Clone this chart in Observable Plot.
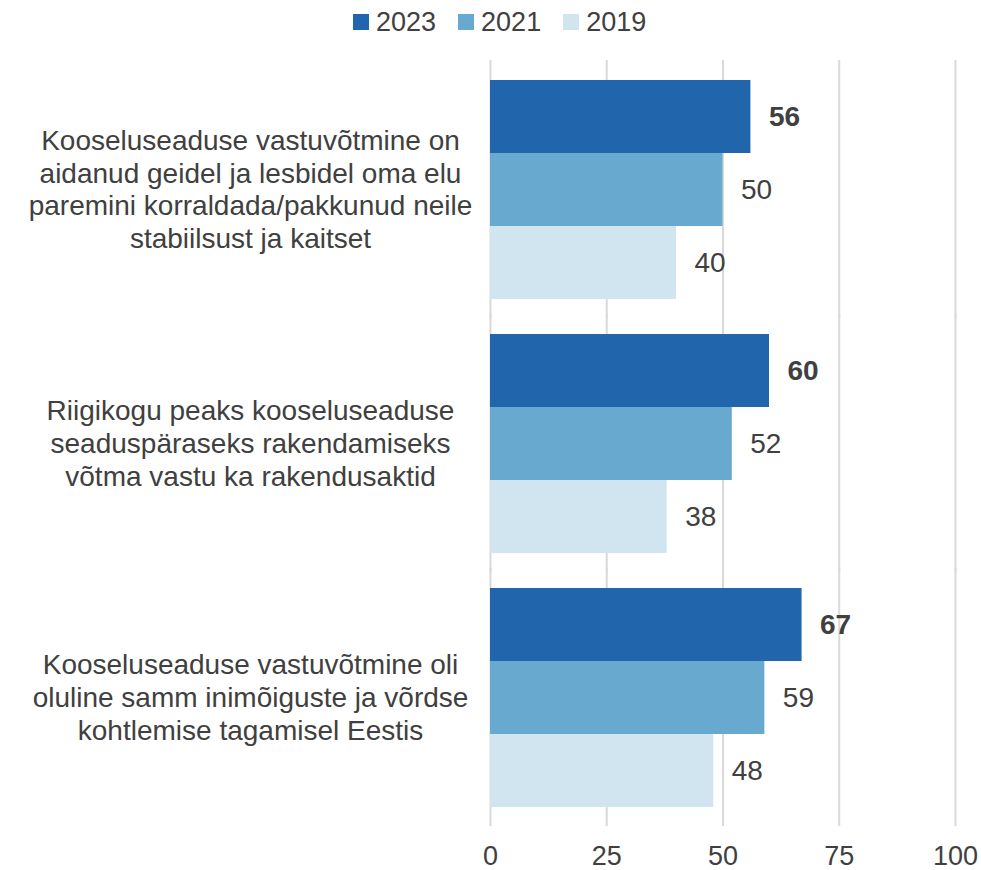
<!DOCTYPE html>
<html>
<head>
<meta charset="utf-8">
<script src="https://cdn.jsdelivr.net/npm/d3@7"></script>
<script src="https://cdn.jsdelivr.net/npm/@observablehq/plot@0.6"></script>
<style>
  html, body { margin: 0; padding: 0; background: #fff; }
  #wrap { position: relative; width: 981px; height: 870px; font-family: "Liberation Sans", Arial, sans-serif; }
  #legend { position: absolute; top: 0; left: 0; width: 981px; height: 44px; display: flex; align-items: center; padding-left: 353px; box-sizing: border-box; color: #404040; font-size: 27px; z-index: 2; }
  .item { display: flex; align-items: center; margin-right: 22px; }
  .sw { width: 16px; height: 16px; margin-right: 7px; }
  #chart { position: absolute; top: 0; left: 0; }
</style>
</head>
<body>
<div id="wrap">
  <div id="legend"></div>
  <div id="chart"></div>
</div>
<script>
const questions = [
  "Kooseluseaduse vastuvõtmine on aidanud geidel ja lesbidel oma elu paremini korraldada/pakkunud neile stabiilsust ja kaitset",
  "Riigikogu peaks kooseluseaduse seaduspäraseks rakendamiseks võtma vastu ka rakendusaktid",
  "Kooseluseaduse vastuvõtmine oli oluline samm inimõiguste ja võrdse kohtlemise tagamisel Eestis"
];
const questionLabels = [
  "Kooseluseaduse vastuvõtmine on\naidanud geidel ja lesbidel oma elu\nparemini korraldada/pakkunud neile\nstabiilsust ja kaitset",
  "Riigikogu peaks kooseluseaduse\nseaduspäraseks rakendamiseks\nvõtma vastu ka rakendusaktid",
  "Kooseluseaduse vastuvõtmine oli\noluline samm inimõiguste ja võrdse\nkohtlemise tagamisel Eestis"
];
const years = ["2023", "2021", "2019"];
const values2023 = [56, 60, 67];
const values2021 = [50, 52, 59];
const values2019 = [40, 38, 48];
const colors = ["#2166ac", "#67a9cf", "#d1e5f0"];
const xTicks = [0, 25, 50, 75, 100];

const series = {"2023": values2023, "2021": values2021, "2019": values2019};
const data = [];
questions.forEach((q, i) => {
  years.forEach(y => data.push({question: q, year: y, value: series[y][i]}));
});
const labelData = questions.map((q, i) => ({question: q, label: questionLabels[i]}));
const lastQuestion = questions[questions.length - 1];

const textColor = "#404040";
const fontSize = 28;

const chart = Plot.plot({
  width: 981,
  height: 870,
  marginTop: 61,
  marginBottom: 46,
  marginLeft: 490,
  marginRight: 26,
  style: {fontFamily: "Liberation Sans, Arial, sans-serif", fontSize: fontSize + "px", color: textColor, background: "transparent"},
  x: {domain: [0, 100], axis: null},
  y: {domain: years, axis: null, padding: 0},
  fy: {domain: questions, axis: null, paddingInner: 0.135, paddingOuter: 0.068},
  color: {domain: years, range: colors},
  marks: [
    Plot.ruleX(xTicks, {x: d => d, stroke: "#d9d9d9", strokeWidth: 2, insetTop: -19, insetBottom: -19}),
    Plot.barX(data, {fy: "question", y: "year", x: "value", fill: "year"}),
    Plot.text(data, {
      filter: d => d.year === "2023",
      fy: "question", y: "year", x: "value", text: d => String(d.value),
      textAnchor: "start", dx: 18, fill: textColor, fontSize: fontSize, fontWeight: "bold"
    }),
    Plot.text(data, {
      filter: d => d.year !== "2023",
      fy: "question", y: "year", x: "value", text: d => String(d.value),
      textAnchor: "start", dx: 18, fill: textColor, fontSize: fontSize
    }),
    Plot.text(labelData, {
      fy: "question", text: "label", frameAnchor: "left", dx: -240, dy: -1,
      textAnchor: "middle", lineHeight: 1.165, fill: textColor, fontSize: fontSize
    }),
    Plot.text(xTicks, {
      x: d => d, fy: () => lastQuestion, text: d => String(d), frameAnchor: "bottom", dy: 49,
      lineAnchor: "middle", fill: textColor, fontSize: 27
    })
  ]
});
document.getElementById("chart").appendChild(chart);

const legend = document.getElementById("legend");
years.forEach((y, i) => {
  const item = document.createElement("div");
  item.className = "item";
  const sw = document.createElement("div");
  sw.className = "sw";
  sw.style.background = colors[i];
  const t = document.createElement("span");
  t.textContent = y;
  item.appendChild(sw);
  item.appendChild(t);
  legend.appendChild(item);
});
</script>
</body>
</html>
